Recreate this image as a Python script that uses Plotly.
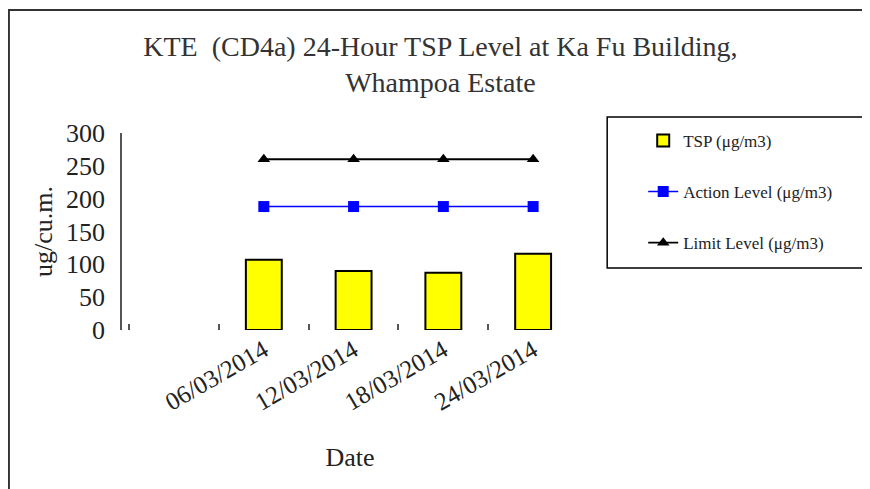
import plotly.graph_objects as go

# Date categories (first slot is empty on the original chart)
dates = [" ", "06/03/2014", "12/03/2014", "18/03/2014", "24/03/2014"]
tsp = [None, 107, 90, 87, 116]
action_level = [None, 188, 188, 188, 188]
limit_level = [None, 260, 260, 260, 260]

serif = "Liberation Serif, Times New Roman, serif"

fig = go.Figure()

fig.add_trace(go.Bar(
    x=dates, y=tsp, name="TSP (μg/m3)",
    marker=dict(color="#FFFF00", line=dict(color="black", width=2)),
    width=0.4, legendgroup="a"
))
fig.add_trace(go.Scatter(
    x=dates, y=action_level, name="Action Level (μg/m3)",
    mode="lines+markers", line=dict(color="#0000FF", width=1.5),
    marker=dict(symbol="square", size=11, color="#0000FF"),
    legendgroup="b"
))
fig.add_trace(go.Scatter(
    x=dates, y=limit_level, name="Limit Level (μg/m3)",
    mode="lines+markers", line=dict(color="black", width=1.8),
    marker=dict(symbol="triangle-up", size=11, color="black"),
    legendgroup="c"
))

# the page body adds an 8px offset, so margins are shifted by that much
fig.update_layout(
    width=870, height=489,
    margin=dict(l=114, r=300, t=125, b=167, autoexpand=False),
    paper_bgcolor="white", plot_bgcolor="white",
    font=dict(family=serif, color="#222"),
    title=dict(
        text="KTE  (CD4a) 24-Hour TSP Level at Ka Fu Building,<br>Whampoa Estate",
        x=0.497, xanchor="center", xref="container",
        y=0.902, yanchor="top", yref="container",
        font=dict(size=28, color="#333", family=serif)
    ),
    showlegend=True,
    legend=dict(
        x=1.143, y=1.051, xanchor="left", yanchor="top",
        bgcolor="rgba(0,0,0,0)", borderwidth=0,
        font=dict(size=17, family=serif, color="#222"),
        tracegroupgap=26, traceorder="grouped"
    ),
    bargap=0.6,
)

fig.update_xaxes(
    type="category", categoryorder="array", categoryarray=dates,
    range=[-0.58, 4.5], tickson="boundaries", automargin=False,
    ticks="inside", ticklen=6, tickwidth=1.5, tickcolor="#555",
    showline=False, showgrid=False, zeroline=False,
    tickangle=-30, tickfont=dict(size=25, family=serif, color="#222"),
    title=dict(text="Date", font=dict(size=26, family=serif, color="#222"), standoff=33)
)
fig.update_yaxes(
    range=[0, 300], dtick=50, showgrid=False, zeroline=False, automargin=False,
    showline=True, linecolor="#555", linewidth=1.5,
    ticks="", ticklabelstandoff=10,
    tickfont=dict(size=26, family=serif, color="#222"),
    title=dict(text="ug/cu.m.", font=dict(size=26, family=serif, color="#222"), standoff=6)
)

# legend box and outer frame
fig.add_shape(type="rect", xref="paper", yref="paper",
              x0=1.064, x1=1.632, y0=0.315, y1=1.081,
              line=dict(color="black", width=1.5))
fig.add_shape(type="path", xref="paper", yref="paper",
              path="M -0.248,-0.81 L -0.248,1.625 L 1.65,1.625",
              line=dict(color="#333", width=2))

fig.write_html("out.html")
